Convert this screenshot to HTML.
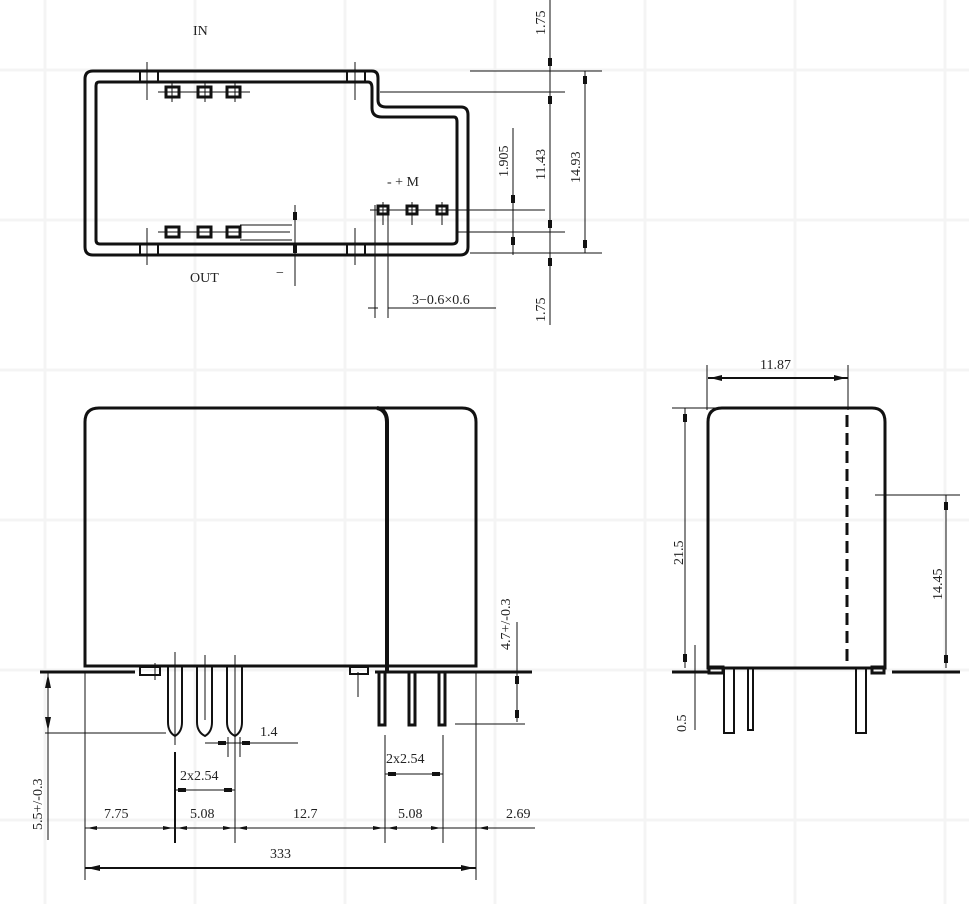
<!DOCTYPE html>
<html><head><meta charset="utf-8"><style>
html,body{margin:0;padding:0;background:#fff;}
svg{display:block;}
text{font-family:"Liberation Serif",serif;font-size:14px;fill:#222;}
</style></head><body>
<svg width="969" height="904" viewBox="0 0 969 904" xmlns="http://www.w3.org/2000/svg">
<g stroke="#f4f4f4" stroke-width="3">
<line x1="45" y1="0" x2="45" y2="904"/><line x1="195" y1="0" x2="195" y2="904"/><line x1="345" y1="0" x2="345" y2="904"/><line x1="495" y1="0" x2="495" y2="904"/><line x1="645" y1="0" x2="645" y2="904"/><line x1="795" y1="0" x2="795" y2="904"/><line x1="945" y1="0" x2="945" y2="904"/>
<line x1="0" y1="70" x2="969" y2="70"/><line x1="0" y1="220" x2="969" y2="220"/><line x1="0" y1="370" x2="969" y2="370"/><line x1="0" y1="520" x2="969" y2="520"/><line x1="0" y1="670" x2="969" y2="670"/><line x1="0" y1="820" x2="969" y2="820"/>
</g>
<g fill="none" stroke="#111">
<path d="M93,71 H372 Q378,71 378,78 V100 Q378,107 386,107 H461 Q468,107 468,115 V247 Q468,255 460,255 H93 Q85,255 85,247 V79 Q85,71 93,71 Z" stroke-width="3"/>
<path d="M99,82 H368 Q372,82 372,88 V108 Q372,117 382,117 H454 Q457,117 457,122 V240 Q457,244 452,244 H100 Q96,244 96,240 V86 Q96,82 99,82 Z" stroke-width="3"/>
<g stroke-width="1"><line x1="147" y1="62" x2="147" y2="100"/><line x1="355" y1="62" x2="355" y2="100"/><line x1="147" y1="228" x2="147" y2="265"/><line x1="355" y1="228" x2="355" y2="265"/></g>
<g stroke-width="2"><rect x="140" y="71" width="18" height="11"/><rect x="347" y="71" width="18" height="11"/><rect x="140" y="244" width="18" height="11"/><rect x="347" y="244" width="18" height="11"/></g>
<g stroke-width="3"><rect x="166" y="87" width="13" height="10"/><rect x="198" y="87" width="13" height="10"/><rect x="227" y="87" width="13" height="10"/>
<rect x="166" y="227" width="13" height="10"/><rect x="198" y="227" width="13" height="10"/><rect x="227" y="227" width="13" height="10"/></g>
<g stroke-width="1"><line x1="158" y1="92" x2="250" y2="92"/><line x1="172" y1="82" x2="172" y2="102"/><line x1="205" y1="82" x2="205" y2="102"/><line x1="235" y1="82" x2="235" y2="102"/>
<line x1="158" y1="232" x2="290" y2="232"/><line x1="240" y1="225" x2="292" y2="225"/><line x1="240" y1="240" x2="292" y2="240"/></g>
<g stroke-width="3"><rect x="378" y="206" width="10" height="8"/><rect x="407" y="206" width="10" height="8"/><rect x="437" y="206" width="10" height="8"/></g>
<g stroke-width="1"><line x1="370" y1="210" x2="545" y2="210"/><line x1="383" y1="202" x2="383" y2="225"/><line x1="412" y1="202" x2="412" y2="225"/><line x1="442" y1="202" x2="442" y2="225"/>
<line x1="375" y1="205" x2="375" y2="318"/><line x1="388" y1="205" x2="388" y2="318"/><line x1="368" y1="308" x2="378" y2="308"/><line x1="388" y1="308" x2="496" y2="308"/>
<line x1="295" y1="205" x2="295" y2="286"/>
<line x1="470" y1="71" x2="602" y2="71"/><line x1="380" y1="92" x2="565" y2="92"/><line x1="457" y1="232" x2="565" y2="232"/><line x1="470" y1="253" x2="602" y2="253"/>
<line x1="513" y1="128" x2="513" y2="255"/><line x1="550" y1="0" x2="550" y2="325"/><line x1="585" y1="71" x2="585" y2="253"/></g>
<path d="M85,666 V422 Q85,408 99,408 H462 Q476,408 476,422 V666 Z" stroke-width="3"/>
<path d="M377,408 Q387,410 387,422 V672" stroke-width="4"/>
<g stroke-width="3"><line x1="40" y1="672" x2="135" y2="672"/><line x1="375" y1="672" x2="532" y2="672"/></g>
<g stroke-width="2"><rect x="140" y="667" width="20" height="8"/><rect x="350" y="667" width="18" height="7"/></g>
<g stroke-width="2"><path d="M168,667 V722 Q168,732 175,736 Q182,732 182,722 V667"/><path d="M197,667 V722 Q197,732 205,736 Q212,732 212,722 V667"/><path d="M227,667 V722 Q227,732 235,736 Q242,732 242,722 V667"/></g>
<g stroke-width="1"><line x1="155" y1="663" x2="155" y2="680"/><line x1="175" y1="652" x2="175" y2="745"/><line x1="205" y1="655" x2="205" y2="720"/><line x1="235" y1="655" x2="235" y2="755"/><line x1="358" y1="672" x2="358" y2="697"/></g>
<g stroke-width="3"><rect x="379" y="672" width="6" height="53"/><rect x="409" y="672" width="6" height="53"/><rect x="439" y="672" width="6" height="53"/></g>
<g stroke-width="1"><line x1="45" y1="733" x2="166" y2="733"/><line x1="48" y1="672" x2="48" y2="840"/><line x1="476" y1="672" x2="476" y2="880"/><line x1="85" y1="672" x2="85" y2="880"/>
<line x1="517" y1="622" x2="517" y2="722"/><line x1="455" y1="724" x2="525" y2="724"/>
<line x1="175" y1="752" x2="175" y2="843" stroke-width="2"/><line x1="235" y1="755" x2="235" y2="843"/><line x1="385" y1="735" x2="385" y2="843"/><line x1="443" y1="735" x2="443" y2="843"/>
<line x1="205" y1="743" x2="298" y2="743"/><line x1="228" y1="737" x2="228" y2="757"/><line x1="240" y1="737" x2="240" y2="757"/>
<line x1="175" y1="790" x2="235" y2="790"/><line x1="385" y1="774" x2="443" y2="774"/>
<line x1="85" y1="828" x2="535" y2="828"/><line x1="85" y1="868" x2="476" y2="868" stroke-width="2"/></g>
<path d="M708,668 V422 Q708,408 722,408 H872 Q885,408 885,422 V668 Z" stroke-width="3"/>
<line x1="847" y1="415" x2="847" y2="665" stroke-width="3" stroke-dasharray="12,6"/>
<g stroke-width="3"><line x1="672" y1="672" x2="710" y2="672"/><line x1="892" y1="672" x2="960" y2="672"/><rect x="709" y="667" width="14" height="6"/><rect x="872" y="667" width="12" height="6"/></g>
<g stroke-width="2"><rect x="724" y="668" width="10" height="65"/><rect x="748" y="668" width="5" height="62"/><rect x="856" y="668" width="10" height="65"/></g>
<g stroke-width="1"><line x1="707" y1="365" x2="707" y2="410"/><line x1="848" y1="365" x2="848" y2="410"/><line x1="708" y1="378" x2="848" y2="378" stroke-width="2"/>
<line x1="672" y1="408" x2="720" y2="408"/><line x1="685" y1="408" x2="685" y2="668"/><line x1="695" y1="645" x2="695" y2="730"/>
<line x1="875" y1="495" x2="960" y2="495"/><line x1="946" y1="495" x2="946" y2="668"/></g>
</g>
<g fill="#111">
<rect x="548" y="58" width="4" height="8"/><rect x="548" y="96" width="4" height="8"/><rect x="548" y="220" width="4" height="8"/><rect x="548" y="258" width="4" height="8"/>
<rect x="583" y="76" width="4" height="8"/><rect x="583" y="240" width="4" height="8"/><rect x="511" y="195" width="4" height="8"/><rect x="511" y="237" width="4" height="8"/>
<rect x="293" y="212" width="4" height="8"/><rect x="293" y="245" width="4" height="8"/>
<rect x="515" y="676" width="4" height="8"/><rect x="515" y="710" width="4" height="8"/>
<polygon points="48,674 45,688 51,688"/><polygon points="48,731 45,717 51,717"/>
<polygon points="87,868 100,865 100,871"/><polygon points="474,868 461,865 461,871"/>
<polygon points="710,378 722,375 722,381"/><polygon points="846,378 834,375 834,381"/>
<rect x="683" y="414" width="4" height="8"/><rect x="683" y="654" width="4" height="8"/><rect x="944" y="502" width="4" height="8"/><rect x="944" y="655" width="4" height="8"/>
<polygon points="87,828 97,826 97,830"/><polygon points="173,828 163,826 163,830"/><polygon points="177,828 187,826 187,830"/><polygon points="233,828 223,826 223,830"/><polygon points="237,828 247,826 247,830"/><polygon points="383,828 373,826 373,830"/><polygon points="387,828 397,826 397,830"/><polygon points="441,828 431,826 431,830"/><polygon points="478,828 488,826 488,830"/>
<rect x="178" y="788" width="8" height="4"/><rect x="224" y="788" width="8" height="4"/><rect x="388" y="772" width="8" height="4"/><rect x="432" y="772" width="8" height="4"/>
<rect x="218" y="741" width="8" height="4"/><rect x="242" y="741" width="8" height="4"/>
</g>
<text x="193" y="35">IN</text>
<text x="190" y="282">OUT</text>
<text x="276" y="277">−</text>
<text x="387" y="186">- + M</text>
<text x="412" y="304">3−0.6×0.6</text>
<text transform="translate(545,35) rotate(-90)">1.75</text>
<text transform="translate(545,322) rotate(-90)">1.75</text>
<text transform="translate(508,177) rotate(-90)">1.905</text>
<text transform="translate(545,180) rotate(-90)">11.43</text>
<text transform="translate(580,183) rotate(-90)">14.93</text>
<text transform="translate(510,650) rotate(-90)">4.7+/-0.3</text>
<text transform="translate(42,830) rotate(-90)">5.5+/-0.3</text>
<text x="260" y="736">1.4</text>
<text x="180" y="780">2x2.54</text>
<text x="386" y="763">2x2.54</text>
<text x="104" y="818">7.75</text>
<text x="190" y="818">5.08</text>
<text x="293" y="818">12.7</text>
<text x="398" y="818">5.08</text>
<text x="506" y="818">2.69</text>
<text x="270" y="858">333</text>
<text x="760" y="369">11.87</text>
<text transform="translate(683,565) rotate(-90)">21.5</text>
<text transform="translate(942,600) rotate(-90)">14.45</text>
<text transform="translate(686,732) rotate(-90)">0.5</text>
</svg>
</body></html>
